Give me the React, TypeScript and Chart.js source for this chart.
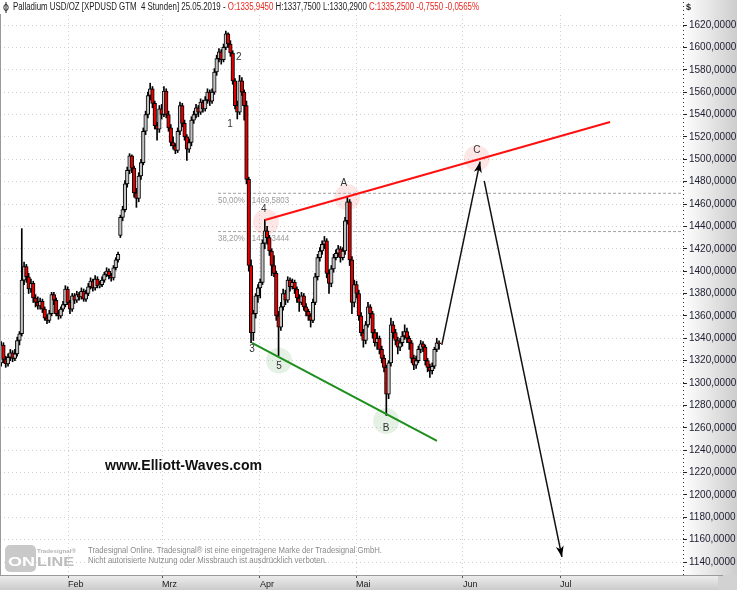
import React, { useEffect, useRef } from 'react';
import { Chart, registerables } from 'chart.js';

Chart.register(...registerables);

// 4-hour candles, Palladium USD/OZ (two bars per trading-day slot on the x index)
const opens = [
  1318, 1334, 1321, 1317, 1323, 1327, 1322, 1326, 1338, 1344,
  1392, 1404, 1395, 1384, 1389, 1376, 1372, 1369, 1373, 1366,
  1358, 1356, 1362, 1379, 1374, 1362, 1360, 1366, 1370, 1384,
  1372, 1366, 1378, 1374, 1379, 1377, 1382, 1375, 1380, 1386,
  1391, 1385, 1393, 1387, 1388, 1392, 1397, 1400, 1396, 1394,
  1403, 1410, 1432, 1448, 1455, 1478, 1490, 1503, 1492, 1470,
  1465, 1485, 1497, 1525, 1540, 1557, 1563, 1550, 1530, 1527,
  1545, 1540, 1561, 1540, 1528, 1515, 1512, 1508, 1525, 1548,
  1532, 1520, 1509, 1515, 1535, 1540, 1546, 1542, 1551, 1545,
  1553, 1560, 1552, 1560, 1578, 1590, 1596, 1589, 1600, 1612,
  1603, 1595, 1570, 1548, 1542, 1570, 1560, 1548, 1482, 1405,
  1345, 1362, 1378, 1385, 1390, 1425, 1436, 1430, 1418, 1405,
  1398, 1360, 1350, 1368, 1380, 1374, 1392, 1386, 1390, 1384,
  1376, 1372, 1378, 1368, 1364, 1360, 1356, 1372, 1395, 1412,
  1418, 1424, 1427, 1398, 1389, 1402, 1412, 1416, 1420, 1412,
  1418, 1445, 1462, 1410, 1372, 1388, 1380, 1360, 1345, 1338,
  1352, 1368, 1362, 1345, 1336, 1340, 1330, 1322, 1314, 1290,
  1318, 1352, 1345, 1338, 1332, 1336, 1342, 1346, 1340, 1336,
  1322, 1316, 1320, 1330, 1335, 1332, 1320, 1314, 1311, 1315,
  1330, 1335.945,
];
const highs = [
  1337, 1336, 1324, 1326, 1330, 1329, 1330, 1341, 1346, 1438,
  1408, 1406, 1398, 1393, 1391, 1379, 1377, 1376, 1375, 1368,
  1361, 1365, 1381, 1381, 1376, 1365, 1368, 1373, 1387, 1386,
  1374, 1380, 1380, 1382, 1381, 1385, 1384, 1383, 1389, 1394,
  1393, 1396, 1395, 1391, 1395, 1399, 1403, 1402, 1398, 1405,
  1412, 1417, 1450, 1458, 1481, 1493, 1505, 1504, 1494, 1474,
  1488, 1500, 1528, 1543, 1560, 1568, 1565, 1552, 1533, 1548,
  1549, 1565, 1563, 1543, 1531, 1520, 1514, 1528, 1551, 1550,
  1535, 1522, 1518, 1538, 1543, 1549, 1548, 1554, 1553, 1556,
  1563, 1562, 1563, 1581, 1593, 1599, 1598, 1603, 1614.65, 1613,
  1606, 1597, 1572, 1552, 1575, 1573, 1562, 1552, 1484, 1410,
  1365, 1380, 1388, 1393, 1428, 1446, 1440, 1432, 1420, 1414,
  1400, 1364, 1372, 1384, 1383, 1395, 1394, 1393, 1392, 1386,
  1379, 1381, 1380, 1371, 1366, 1362, 1375, 1398, 1415, 1421,
  1427, 1431, 1429, 1401, 1405, 1415, 1419, 1423, 1422, 1421,
  1448, 1466, 1464, 1413, 1392, 1391, 1383, 1363, 1348, 1355,
  1372, 1370, 1364, 1348, 1345, 1342, 1333, 1325, 1316, 1320,
  1358, 1355, 1348, 1341, 1340, 1346, 1352, 1349, 1342, 1338,
  1325, 1324, 1333, 1338, 1337, 1334, 1322, 1317, 1318, 1332,
  1340, 1337.75,
];
const lows = [
  1315, 1318, 1314, 1315, 1320, 1319, 1320, 1324, 1334, 1342,
  1388, 1390, 1380, 1381, 1372, 1368, 1366, 1366, 1363, 1356,
  1353, 1354, 1360, 1370, 1360, 1357, 1358, 1364, 1368, 1370,
  1362, 1364, 1371, 1372, 1374, 1375, 1373, 1373, 1378, 1384,
  1382, 1383, 1385, 1385, 1386, 1390, 1395, 1393, 1391, 1392,
  1401, 1408, 1430, 1445, 1453, 1475, 1487, 1488, 1466, 1457,
  1462, 1482, 1495, 1522, 1537, 1553, 1546, 1527, 1517, 1524,
  1536, 1538, 1537, 1525, 1512, 1509, 1505, 1506, 1522, 1529,
  1517, 1499, 1506, 1512, 1532, 1537, 1538, 1540, 1542, 1543,
  1550, 1548, 1550, 1558, 1575, 1587, 1585, 1587, 1598, 1600,
  1592, 1567, 1545, 1536, 1540, 1557, 1535, 1478, 1400, 1336,
  1338, 1358, 1372, 1376, 1388, 1420, 1424, 1414, 1396, 1395,
  1356, 1324.51, 1347, 1365, 1370, 1372, 1382, 1384, 1380, 1372,
  1364, 1370, 1365, 1360, 1356, 1350, 1354, 1370, 1392, 1409,
  1415, 1420, 1394, 1380, 1386, 1399, 1410, 1413, 1408, 1410,
  1415, 1442, 1405, 1362, 1368, 1376, 1356, 1342, 1332, 1335,
  1350, 1358, 1340, 1333, 1330, 1326, 1318, 1310, 1271, 1286,
  1315, 1340, 1334, 1326, 1329, 1333, 1339, 1336, 1330, 1318,
  1312, 1313, 1318, 1327, 1328, 1316, 1310, 1305, 1308, 1313,
  1328, 1330.29,
];
const closes = [
  1334, 1321, 1317, 1323, 1327, 1322, 1326, 1338, 1344, 1392,
  1404, 1395, 1384, 1389, 1376, 1372, 1369, 1373, 1366, 1358,
  1356, 1362, 1379, 1374, 1362, 1360, 1366, 1370, 1384, 1372,
  1366, 1378, 1374, 1379, 1377, 1382, 1375, 1380, 1386, 1391,
  1385, 1393, 1387, 1388, 1392, 1397, 1400, 1396, 1394, 1403,
  1410, 1415, 1448, 1455, 1478, 1490, 1503, 1492, 1470, 1465,
  1485, 1497, 1525, 1540, 1557, 1563, 1550, 1530, 1527, 1545,
  1540, 1561, 1540, 1528, 1515, 1512, 1508, 1525, 1548, 1532,
  1520, 1509, 1515, 1535, 1540, 1546, 1542, 1551, 1545, 1553,
  1560, 1552, 1560, 1578, 1590, 1596, 1589, 1600, 1612, 1603,
  1595, 1570, 1548, 1542, 1570, 1560, 1548, 1482, 1405, 1345,
  1362, 1378, 1385, 1390, 1425, 1436, 1430, 1418, 1405, 1398,
  1360, 1350, 1368, 1380, 1374, 1392, 1386, 1390, 1384, 1376,
  1372, 1378, 1368, 1364, 1360, 1356, 1372, 1395, 1412, 1418,
  1424, 1427, 1398, 1389, 1402, 1412, 1416, 1420, 1412, 1418,
  1445, 1462, 1410, 1372, 1388, 1380, 1360, 1345, 1338, 1352,
  1368, 1362, 1345, 1336, 1340, 1330, 1322, 1314, 1290, 1318,
  1352, 1345, 1338, 1332, 1336, 1342, 1346, 1340, 1336, 1322,
  1316, 1320, 1330, 1335, 1332, 1320, 1314, 1311, 1315, 1330,
  1336.005, 1335.25,
];

// month boundaries on the bar-index axis
const monthTicks = [29.2, 70.2, 112.9, 154.8, 201.4, 243.8];
const monthLabels = ['Feb', 'Mrz', 'Apr', 'Mai', 'Jun', 'Jul'];

// Fibonacci retracement levels
const fibLevels = [1469.5803, 1435.3444];
const fibLabels = ['50,00%', '38,20%'];
const fibStartX = 94.6;

// trend channel and forecast path
const resistanceLine = [{ x: 115.1, y: 1445.7 }, { x: 265.6, y: 1533.3 }];
const supportLine = [{ x: 109.4, y: 1335.8 }, { x: 190.1, y: 1248.2 }];
const forecastUp = [{ x: 192.2, y: 1334 }, { x: 208.9, y: 1497.8 }];
const forecastDown = [{ x: 210.7, y: 1480.6 }, { x: 244.6, y: 1144.5 }];

// highlighted turning points
const redMarkers = [{ x: 115.5, y: 1443.9 }, { x: 151, y: 1466 }, { x: 207.5, y: 1501 }];
const greenMarkers = [{ x: 121.2, y: 1320 }, { x: 167.9, y: 1266 }];

// Elliott wave counts
const waveLabels = ['1', '2', '3', '4', '5', 'A', 'B', 'C'];
const waveLabelX = [99.8, 103.7, 109.4, 114.6, 121.2, 149.5, 167.9, 207.5];
const waveLabelY = [1531.5, 1591.4, 1330.4, 1455.5, 1315.2, 1478.8, 1259.8, 1508];

const X_MIN = -0.5;
const X_MAX = 297.4;
const Y_MIN = 1128.38;
const Y_MAX = 1628.94;

const NARROW = '"Liberation Sans Narrow", "Liberation Sans", Arial, sans-serif';
const SANS = '"Liberation Sans", Arial, sans-serif';

const fmt = (v: number) => v.toFixed(4).replace('.', ',');

function fitText(ctx: CanvasRenderingContext2D, text: string, x: number, y: number, width: number, font: string, color: string) {
  ctx.save();
  ctx.font = font;
  ctx.fillStyle = color;
  ctx.textBaseline = 'middle';
  ctx.textAlign = 'left';
  const w = ctx.measureText(text).width;
  ctx.translate(x, y);
  ctx.scale(width / w, 1);
  ctx.fillText(text, 0, 0);
  ctx.restore();
}

const decor = {
  id: 'decor',
  beforeDraw(chart: any) {
    const { ctx, chartArea: a, width, height } = chart;
    ctx.save();
    ctx.fillStyle = '#ffffff';
    ctx.fillRect(0, 0, width, height);
    const g = ctx.createLinearGradient(a.right, 0, width, 0);
    g.addColorStop(0, '#ffffff');
    g.addColorStop(1, '#cdcdcd');
    ctx.fillStyle = g;
    ctx.fillRect(a.right, 0, width - a.right, a.bottom);
    const gb = ctx.createLinearGradient(0, a.bottom, 0, height);
    gb.addColorStop(0, '#eeeeee');
    gb.addColorStop(1, '#cbcbcb');
    ctx.fillStyle = gb;
    ctx.fillRect(0, a.bottom, width, height - a.bottom);
    ctx.fillStyle = '#d2d2d2';
    ctx.fillRect(718, a.bottom, width - 718, height - a.bottom);
    ctx.restore();
  },
  beforeDatasetsDraw(chart: any) {
    const { ctx, scales } = chart;
    const x0 = scales.x.getPixelForValue(fibStartX);
    fibLevels.forEach((lvl, i) => {
      const y = scales.y.getPixelForValue(lvl);
      fitText(ctx, `${fibLabels[i]} - ${fmt(lvl)}`, x0, y + 7, 71, `9px ${NARROW}`, '#9a9a9a');
    });
  },
  afterDatasetsDraw(chart: any) {
    const { ctx, scales } = chart;
    // arrow heads on the forecast legs
    [2, 3].forEach((di) => {
      const pts = chart.getDatasetMeta(di).data;
      const p1 = pts[pts.length - 2];
      const p2 = pts[pts.length - 1];
      const ang = Math.atan2(p2.y - p1.y, p2.x - p1.x);
      const len = 11;
      const half = 4;
      ctx.save();
      ctx.translate(p2.x, p2.y);
      ctx.rotate(ang);
      ctx.fillStyle = '#000';
      ctx.beginPath();
      ctx.moveTo(0, 0);
      ctx.lineTo(-len, -half);
      ctx.lineTo(-len + 3, 0);
      ctx.lineTo(-len, half);
      ctx.closePath();
      ctx.fill();
      ctx.restore();
    });
    ctx.save();
    ctx.font = `10px ${SANS}`;
    ctx.fillStyle = '#333';
    ctx.textAlign = 'center';
    ctx.textBaseline = 'middle';
    waveLabels.forEach((t, i) => {
      ctx.fillText(t, scales.x.getPixelForValue(waveLabelX[i]), scales.y.getPixelForValue(waveLabelY[i]));
    });
    ctx.restore();
  },
  afterDraw(chart: any) {
    const { ctx, chartArea: a } = chart;
    ctx.save();
    // plot frame
    ctx.strokeStyle = '#9a9a9a';
    ctx.lineWidth = 1;
    ctx.beginPath();
    ctx.moveTo(0.5, a.top - 1);
    ctx.lineTo(0.5, a.bottom);
    ctx.moveTo(0, a.bottom + 0.5);
    ctx.lineTo(a.right + 40, a.bottom + 0.5);
    ctx.stroke();
    ctx.strokeStyle = '#333';
    ctx.setLineDash([1, 3]);
    ctx.beginPath();
    ctx.moveTo(a.right + 0.5, 2);
    ctx.lineTo(a.right + 0.5, a.bottom);
    ctx.stroke();
    ctx.setLineDash([]);
    ctx.restore();

    // header line built from the last candle
    const n = closes.length - 1;
    const chg = closes[n] - closes[n - 1];
    const pct = (chg / closes[n - 1]) * 100;
    const segs: [string, string][] = [
      ['Palladium USD/OZ [XPDUSD GTM  4 Stunden] 25.05.2019 - ', '#1a1a1a'],
      [`O:${fmt(opens[n])}`, '#e8261e'],
      [` H:${fmt(highs[n])} L:${fmt(lows[n])} `, '#1a1a1a'],
      [`C:${fmt(closes[n])} ${fmt(chg)} ${fmt(pct)}%`, '#e8261e'],
    ];
    ctx.save();
    ctx.font = `10px ${NARROW}`;
    ctx.textBaseline = 'middle';
    const total = segs.reduce((s, [t]) => s + ctx.measureText(t).width, 0);
    ctx.translate(13, 7.5);
    ctx.scale(466 / total, 1);
    let cx = 0;
    segs.forEach(([t, c]) => {
      ctx.fillStyle = c;
      ctx.fillText(t, cx, 0);
      cx += ctx.measureText(t).width;
    });
    ctx.restore();
    // small instrument glyph
    ctx.save();
    ctx.strokeStyle = '#222';
    ctx.lineWidth = 1;
    ctx.beginPath();
    ctx.ellipse(6, 7.5, 2.2, 3, 0, 0, Math.PI * 2);
    ctx.moveTo(6, 2);
    ctx.lineTo(6, 13);
    ctx.stroke();
    ctx.restore();

    ctx.save();
    ctx.font = `bold 9px ${SANS}`;
    ctx.fillStyle = '#222';
    ctx.textBaseline = 'middle';
    ctx.fillText('$', 686, 8);
    ctx.restore();

    fitText(ctx, 'www.Elliott-Waves.com', 105, 466, 157, `bold 15px ${SANS}`, '#111');

    fitText(ctx, 'Tradesignal Online. Tradesignal® ist eine eingetragene Marke der Tradesignal GmbH.', 88, 551, 294, `9px ${NARROW}`, '#8a8a8a');
    fitText(ctx, 'Nicht autorisierte Nutzung oder Missbrauch ist ausdrücklich verboten.', 88, 561, 239, `9px ${NARROW}`, '#8a8a8a');

    // Tradesignal online logo
    ctx.save();
    ctx.fillStyle = '#c9c9c9';
    ctx.beginPath();
    (ctx as any).roundRect(5, 545, 31, 27, 5);
    ctx.fill();
    ctx.restore();
    fitText(ctx, 'ON', 8, 562.5, 27, `bold 12px ${SANS}`, '#ffffff');
    fitText(ctx, 'LINE', 37, 562.5, 37, `bold 12px ${SANS}`, '#bdbdbd');
    fitText(ctx, 'Tradesignal®', 37, 551, 39, `bold 6px ${SANS}`, '#b4b4b4');
  },
};

export default function App() {
  const ref = useRef<HTMLCanvasElement | null>(null);

  useEffect(() => {
    if (!ref.current) return;
    const idx = closes.map((_, i) => i);
    const wickData = idx.map((i) => ({ x: i, y: [lows[i], highs[i]] }));
    const bodyData = idx.map((i) => ({ x: i, y: [Math.min(opens[i], closes[i]), Math.max(opens[i], closes[i])] }));
    const bodyColors = idx.map((i) => (closes[i] >= opens[i] ? '#c2c2c2' : '#e00000'));

    const chart = new Chart(ref.current, {
      type: 'bar',
      data: {
        datasets: [
          { type: 'line', data: resistanceLine, borderColor: '#ff1010', borderWidth: 2, pointRadius: 0, order: 2 } as any,
          { type: 'line', data: supportLine, borderColor: '#1d8f1d', borderWidth: 2, pointRadius: 0, order: 2 } as any,
          { type: 'line', data: forecastUp, borderColor: '#111', borderWidth: 1.5, pointRadius: 0, order: 1 } as any,
          { type: 'line', data: forecastDown, borderColor: '#111', borderWidth: 1.5, pointRadius: 0, order: 1 } as any,
          { type: 'bar', data: bodyData, backgroundColor: bodyColors, borderColor: '#000', borderWidth: 1, borderSkipped: false, barThickness: 3.6, grouped: false, order: 4 } as any,
          { type: 'bar', data: wickData, backgroundColor: '#000', borderWidth: 0, barThickness: 1, grouped: false, order: 5 } as any,
          ...fibLevels.map((lvl) => ({
            type: 'line', data: [{ x: fibStartX, y: lvl }, { x: X_MAX, y: lvl }],
            borderColor: '#a0a0a0', borderWidth: 1, borderDash: [3, 2], pointRadius: 0, order: 9,
          } as any)),
          { type: 'line', data: redMarkers, showLine: false, pointRadius: 13, pointBackgroundColor: 'rgba(240,60,60,0.13)', pointBorderWidth: 0, order: 10 } as any,
          { type: 'line', data: greenMarkers, showLine: false, pointRadius: 13, pointBackgroundColor: 'rgba(40,140,40,0.12)', pointBorderWidth: 0, order: 10 } as any,
        ],
      },
      options: {
        animation: false,
        responsive: false,
        devicePixelRatio: 1,
        events: [],
        layout: { autoPadding: false, padding: { top: 15, left: 0, right: 0, bottom: 0 } },
        plugins: { legend: { display: false }, tooltip: { enabled: false } },
        scales: {
          x: {
            type: 'linear',
            min: X_MIN,
            max: X_MAX,
            offset: false,
            afterBuildTicks: (s: any) => { s.ticks = monthTicks.map((v) => ({ value: v })); },
            afterFit: (s: any) => { s.height = 15; },
            grid: { offset: false, color: '#cfcfcf', tickLength: 3, tickColor: '#555', tickBorderDash: [] },
            border: { display: false, dash: [1, 3] },
            ticks: {
              autoSkip: false,
              maxRotation: 0,
              align: 'start',
              padding: 1,
              color: '#222',
              font: { family: NARROW, size: 9 },
              callback: (_v: any, i: number) => monthLabels[i],
            },
          },
          y: {
            position: 'right',
            min: Y_MIN,
            max: Y_MAX,
            afterFit: (s: any) => { s.width = 54; },
            grid: { color: '#cfcfcf', tickLength: 4, tickColor: '#222', tickBorderDash: [] },
            border: { display: false, dash: [1, 3] },
            ticks: {
              stepSize: 20,
              includeBounds: false,
              autoSkip: false,
              padding: 2,
              color: '#1c1c30',
              font: { family: NARROW, size: 10 },
              callback: (v: any) => fmt(Number(v)),
            },
          },
        },
      } as any,
      plugins: [decor],
    });
    return () => chart.destroy();
  }, []);

  return (
    <div style={{ position: 'absolute', left: 0, top: 0, width: 737, height: 590 }}>
      <canvas ref={ref} width={737} height={590} style={{ display: 'block', width: 737, height: 590 }} />
    </div>
  );
}
